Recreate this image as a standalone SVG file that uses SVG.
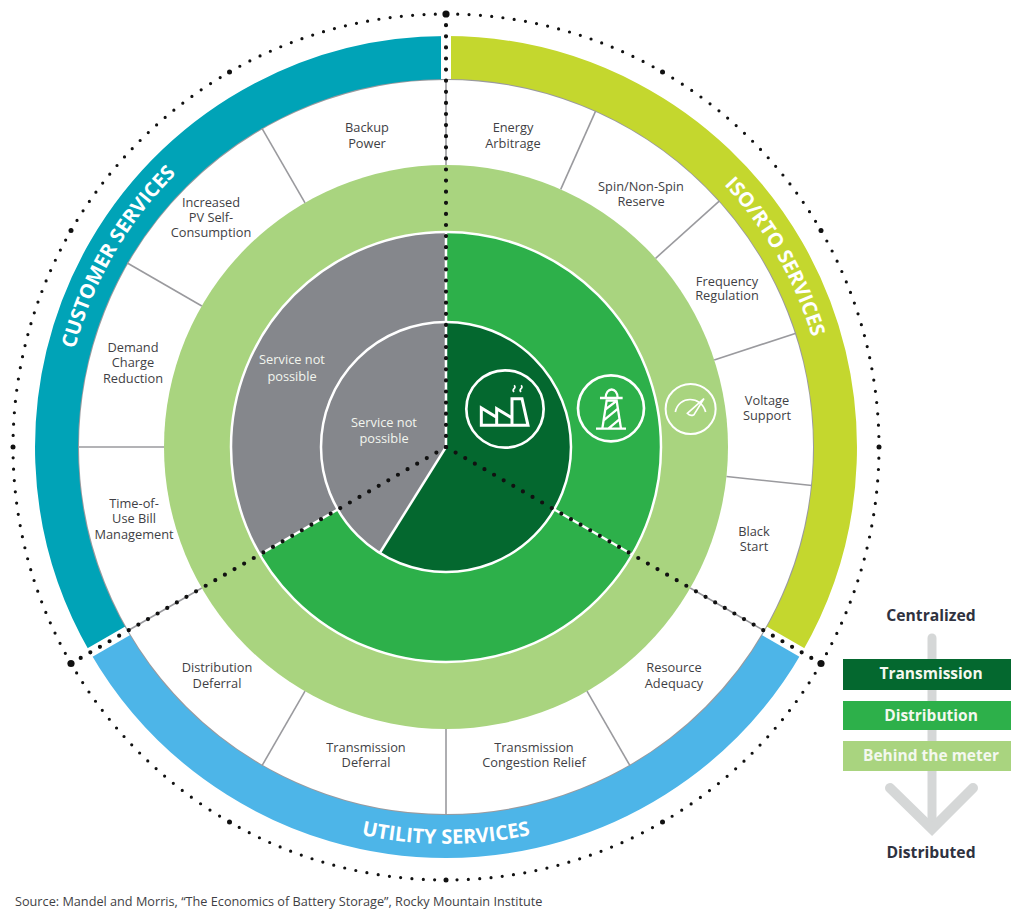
<svg xmlns="http://www.w3.org/2000/svg" width="1011" height="911" viewBox="0 0 1011 911">
<style>
.lbl{font-family:"Open Sans","Noto Sans",Arial,sans-serif;font-size:12.8px;fill:#3f3f45;text-anchor:middle}
.wh{fill:#f2f5ee}
.ring{font-family:"Open Sans","Noto Sans",Arial,sans-serif;font-size:20px;font-weight:700;fill:#fff}
.leg{font-family:"Open Sans","Noto Sans",Arial,sans-serif;font-size:15.5px;font-weight:700;fill:#f4f8ef;text-anchor:middle}
.cap{font-family:"Open Sans","Noto Sans",Arial,sans-serif;font-size:15.7px;font-weight:700;fill:#2f3240;text-anchor:middle}
.arc{fill:none;stroke-width:43}
.div{stroke:#9a9a9e;stroke-width:1.6;fill:none}
.wl{stroke:#fff;fill:none;stroke-width:2.5}
.gap{stroke:#fff;fill:none;stroke-width:10}
.dots{stroke:#111;stroke-width:4.2;stroke-linecap:round;stroke-dasharray:0 11.1;fill:none}
.ico{fill:none;stroke:#fff;stroke-width:9;stroke-linejoin:miter}
.big{fill:#111}
</style>
<defs>
<path id="pCust" d="M 113 638 A 384 384 0 0 1 446 63"/>
<path id="pIso" d="M 446 65 A 382 382 0 0 1 777 638"/>
<path id="pUtil" d="M 102 645 A 397 397 0 0 0 790 645"/>
</defs>
<rect width="1011" height="911" fill="#fff"/>

<g id="outer-ring">
<circle cx="446" cy="447" r="433" fill="none" stroke="#111" stroke-width="3.2" stroke-linecap="round" stroke-dasharray="0 11.336"/>
<g class="big">
<circle cx="446" cy="14" r="3.600"/><circle cx="662.500" cy="72" r="2.500"/><circle cx="821" cy="230.500" r="2.500"/><circle cx="879" cy="447" r="2.500"/><circle cx="821" cy="663.500" r="3.600"/><circle cx="662.500" cy="822" r="2.500"/><circle cx="446" cy="880" r="2.500"/><circle cx="229.500" cy="822" r="2.500"/><circle cx="71" cy="663.500" r="3.600"/><circle cx="13" cy="447" r="2.500"/><circle cx="71" cy="230.500" r="2.500"/><circle cx="229.500" cy="72" r="2.500"/>
</g>
</g>

<g id="service-rings">
<circle cx="446" cy="447" r="368" fill="none" stroke="#9a9a9e" stroke-width="2"/>
<path class="arc" stroke="#C4D72E" d="M 446 57.500 A 389.500 389.500 0 0 1 783.300 641.750"/>
<path class="arc" stroke="#4DB5E8" d="M 783.300 641.750 A 389.500 389.500 0 0 1 108.700 641.750"/>
<path class="arc" stroke="#00A3B7" d="M 108.700 641.750 A 389.500 389.500 0 0 1 446 57.500"/>
</g>

<g id="ring-labels">
<text class="ring"><textPath href="#pCust" startOffset="50%" text-anchor="middle">CUSTOMER SERVICES</textPath></text>
<text class="ring"><textPath href="#pIso" startOffset="50%" text-anchor="middle">ISO/RTO SERVICES</textPath></text>
<text class="ring"><textPath href="#pUtil" startOffset="50%" text-anchor="middle">UTILITY SERVICES</textPath></text>
</g>

<g id="behind-the-meter"><circle cx="446" cy="447" r="282" fill="#A9D47F"/></g>
<g id="distribution">
<circle cx="446" cy="447" r="215" fill="#2DB04A"/>
<path d="M 446 447 L 259.800 554.500 A 215 215 0 0 1 446 232 Z" fill="#85878C"/>
<circle cx="446" cy="447" r="215" class="wl"/>
</g>
<g id="transmission">
<circle cx="446" cy="447" r="125" fill="#85878C"/>
<path d="M 446 447 V 322 A 125 125 0 1 1 379.800 553 Z" fill="#04682F"/>
<circle cx="446" cy="447" r="125" class="wl"/>
<path class="wl" d="M 446 447 L 379.800 553"/>
</g>

<g id="connectors">
<g class="div">
<path d="M 446 165 V 79"/>
<path d="M 446 729 V 815"/>
<path d="M 305 202.800 L 262 128.300"/>
<path d="M 201.800 306 L 127.300 263"/>
<path d="M 164 447 H 78"/>
<path d="M 305 691.200 L 262 765.700"/>
<path d="M 587 691.200 L 630 765.700"/>
<path d="M 560.700 189.400 L 595.700 110.800"/>
<path d="M 655.600 258.300 L 719.500 200.800"/>
<path d="M 714.200 359.900 L 796 333.300"/>
<path d="M 726.500 476.500 L 812 485.500"/>
<path d="M 690.200 588 L 764.700 631"/>
<path d="M 201.800 588 L 127.300 631"/>
</g>
<g class="wl">
<path d="M 446 447 V 232"/>
<path d="M 554.300 509.500 L 632.200 554.500"/>
<path d="M 337.700 509.500 L 259.800 554.500"/>
</g>
<g class="gap">
<path d="M 446 79 V 31"/>
<path d="M 764.700 631 L 806.300 655"/>
<path d="M 127.300 631 L 85.700 655"/>
</g>
<g class="dots">
<path d="M 446 447 V 14"/>
<path d="M 446 447 L 821 663.500"/>
<path d="M 446 447 L 71 663.500"/>
</g>
</g>

<g id="icon-factory" transform="translate(440 330) scale(.3333)">
<circle cx="195" cy="237" r="116" fill="none" stroke="#fff" stroke-width="8"/>
<path class="ico" d="M 124 286 V 234 L 170 262 V 236 L 216 264 V 206 H 246 L 264 286 Z M 170 262 V 286 M 216 264 V 286"/>
<path class="ico" style="stroke-width:5" d="M 222 166 q 6 5 0 10 q -5 5 0 10 M 243 166 q 6 5 0 10 q -5 5 0 10"/>
</g>
<g id="icon-lighthouse" transform="translate(440 330) scale(.3333)">
<circle cx="513" cy="235" r="99" fill="none" stroke="#fff" stroke-width="8"/>
<path class="ico" style="stroke-width:7" d="M 468 296 H 558 M 487 296 L 500 212 H 530 L 543 296 M 480 204 H 548 M 497 204 C 497 170 533 170 533 204 M 490 272 L 534 236 M 505 296 L 541 266 M 494 240 L 528 214"/>
</g>
<g id="icon-gauge" transform="translate(440 330) scale(.3333)">
<circle cx="752" cy="237" r="75" fill="none" stroke="#fff" stroke-width="6"/>
<path class="ico" style="stroke-width:5" d="M 706 246 C 716 196 784 196 797 246"/>
<path d="M 742 250 L 792 206 L 762 254 Q 750 260 742 250 Z" fill="none" stroke="#fff" stroke-width="5"/>
</g>

<g id="svc-backup"><text class="lbl" y="132"><tspan x="367">Backup</tspan><tspan x="367" dy="16">Power</tspan></text></g>
<g id="svc-arbitrage"><text class="lbl" y="132"><tspan x="513">Energy</tspan><tspan x="513" dy="16">Arbitrage</tspan></text></g>
<g id="svc-spin"><text class="lbl" y="191"><tspan x="641">Spin/Non-Spin</tspan><tspan x="641" dy="15">Reserve</tspan></text></g>
<g id="svc-frequency"><text class="lbl" y="286"><tspan x="727">Frequency</tspan><tspan x="727" dy="14">Regulation</tspan></text></g>
<g id="svc-voltage"><text class="lbl" y="405"><tspan x="767">Voltage</tspan><tspan x="767" dy="15">Support</tspan></text></g>
<g id="svc-blackstart"><text class="lbl" y="536"><tspan x="754">Black</tspan><tspan x="754" dy="15">Start</tspan></text></g>
<g id="svc-adequacy"><text class="lbl" y="672"><tspan x="674">Resource</tspan><tspan x="674" dy="16">Adequacy</tspan></text></g>
<g id="svc-congestion"><text class="lbl" y="752"><tspan x="534">Transmission</tspan><tspan x="534" dy="15">Congestion Relief</tspan></text></g>
<g id="svc-trans-deferral"><text class="lbl" y="752"><tspan x="366">Transmission</tspan><tspan x="366" dy="15">Deferral</tspan></text></g>
<g id="svc-dist-deferral"><text class="lbl" y="672"><tspan x="217">Distribution</tspan><tspan x="217" dy="16">Deferral</tspan></text></g>
<g id="svc-tou"><text class="lbl" y="508"><tspan x="134">Time-of-</tspan><tspan x="134" dy="15">Use Bill</tspan><tspan x="134" dy="16">Management</tspan></text></g>
<g id="svc-demand"><text class="lbl" y="352"><tspan x="133">Demand</tspan><tspan x="133" dy="15">Charge</tspan><tspan x="133" dy="16">Reduction</tspan></text></g>
<g id="svc-pv"><text class="lbl" y="207"><tspan x="211">Increased</tspan><tspan x="211" dy="15">PV Self-</tspan><tspan x="211" dy="15">Consumption</tspan></text></g>
<g id="not-possible-mid"><text class="lbl wh" y="364"><tspan x="292">Service not</tspan><tspan x="292" dy="17">possible</tspan></text></g>
<g id="not-possible-inner"><text class="lbl wh" y="427"><tspan x="384">Service not</tspan><tspan x="384" dy="16">possible</tspan></text></g>

<g id="legend">
<path d="M 932 638 V 826" stroke="#D5D7D7" stroke-width="9" stroke-linecap="round" fill="none"/>
<path d="M 890 788 L 932 829 L 973 788" stroke="#D5D7D7" stroke-width="10" stroke-linecap="round" stroke-linejoin="miter" fill="none"/>
<rect x="843" y="659" width="168" height="31" fill="#04682F"/>
<rect x="843" y="701" width="168" height="29" fill="#2DB04A"/>
<rect x="843" y="741" width="168" height="30" fill="#A9D47F"/>
<text class="cap" x="931" y="621">Centralized</text>
<text class="leg" x="931" y="679">Transmission</text>
<text class="leg" x="931" y="721">Distribution</text>
<text class="leg" x="931" y="761">Behind the meter</text>
<text class="cap" x="931" y="858">Distributed</text>
</g>

<g id="source"><text x="15" y="906" font-family="'Open Sans','Noto Sans',Arial,sans-serif" font-size="12.7" fill="#3f3f45">Source: Mandel and Morris, “The Economics of Battery Storage”, Rocky Mountain Institute</text></g>
</svg>
